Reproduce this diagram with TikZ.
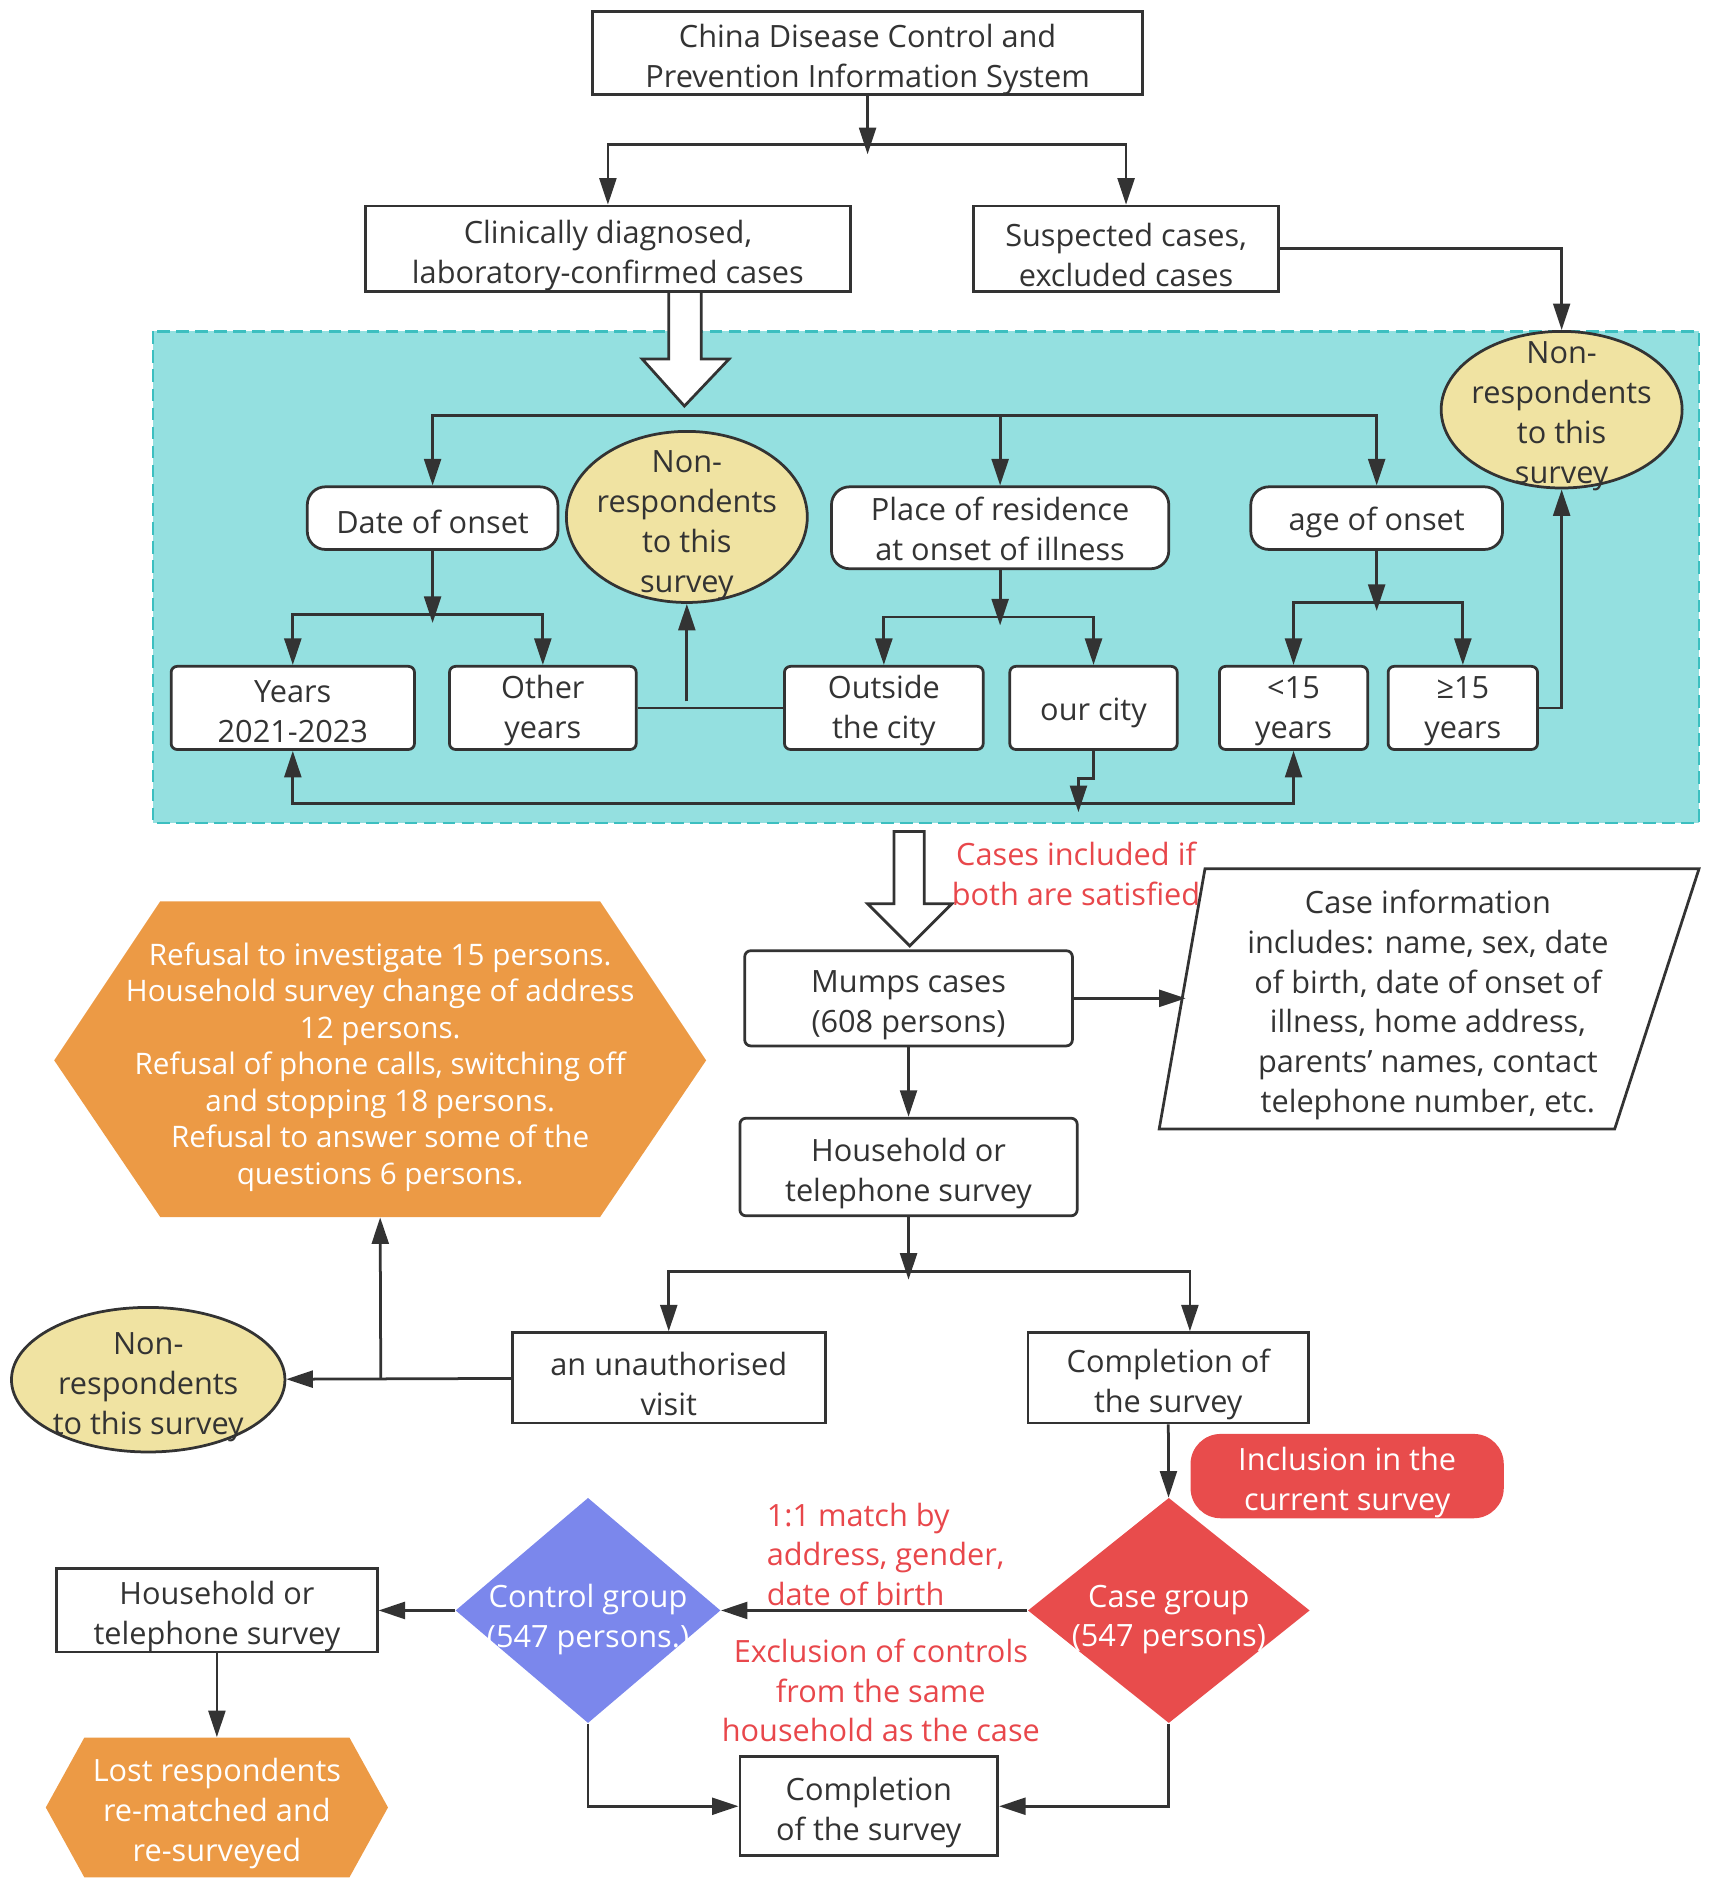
\documentclass[tikz,border=0pt]{standalone}
\usepackage{fontspec}
\setmainfont{Open Sans}
\usetikzlibrary{arrows.meta,shapes.geometric}

\definecolor{boxline}{HTML}{333333}
\definecolor{tealfill}{HTML}{94E0E0}
\definecolor{tealline}{HTML}{3CBFC0}
\definecolor{paleyellow}{HTML}{F0E3A2}
\definecolor{orangefill}{HTML}{EC9A45}
\definecolor{redfill}{HTML}{E84C4C}
\definecolor{redtext}{HTML}{E8474B}
\definecolor{bluefill}{HTML}{7B87EC}

\tikzset{
  txt/.style={font=\fontsize{14.5}{18.8}\selectfont, text=boxline, align=center, inner sep=0pt},
  box/.style={txt, text height=35.8pt, draw=boxline, line width=1.3pt, fill=white},
  oneline/.style={text height=15pt},
  rbox/.style={box, rounded corners=0.3cm},
  sbox/.style={box, rounded corners=0.1cm},
  tbox/.style={sbox, text height=32.5pt},
  nonresp/.style={ellipse, draw=boxline, line width=1.3pt, fill=paleyellow, inner sep=0pt},
  flag/.style={diamond, inner sep=0pt},
  note/.style={txt, text=redtext},
  wtxt/.style={txt, text=white},
  arr/.style={draw=boxline, line width=1.3pt, -{Triangle[length=0.44cm,width=0.28cm]}},
  line/.style={draw=boxline, line width=1.3pt},
  hollow/.style={draw=boxline, line width=1.3pt, fill=white},
}

\begin{document}
\begin{tikzpicture}[x=0.02cm, y=-0.02cm]
\useasboundingbox (0,0) rectangle (1422,1571);

% selection area
\draw[tealline, line width=1.3pt, fill=tealfill, dash pattern=on 6pt off 3pt] (127,275) rectangle (1410,683);

% sources
\node[box, minimum width=9.14cm, minimum height=1.36cm] (cdc) at (720,44) {China Disease Control and\\Prevention Information System};
\node[box, minimum width=8.06cm, minimum height=1.42cm] (clin) at (504.5,206.5) {Clinically diagnosed,\\laboratory-confirmed cases};
\node[box, minimum width=5.06cm, minimum height=1.42cm] (susp) at (934.5,206.5) {Suspected cases,\\excluded cases};

\node[nonresp, minimum width=4cm, minimum height=2.6cm] (nr1) at (1296,340) {};
\node[txt] (nr1t) at (1296,345.5) {Non-\\respondents\\to this\\survey};

% criteria
\node[rbox, oneline, minimum width=4.16cm, minimum height=1.04cm] (dateon) at (359,430) {Date of onset};
\node[nonresp, minimum width=4cm, minimum height=2.84cm] (nr2) at (570,429) {};
\node[txt] (nr2t) at (570,436) {Non-\\respondents\\to this\\survey};
\node[rbox, text height=31.2pt, minimum width=5.6cm, minimum height=1.36cm] (place) at (830,438) {Place of residence\\at onset of illness};
\node[rbox, oneline, minimum width=4.18cm, minimum height=1.04cm] (ageon) at (1142.5,430) {age of onset};

\node[tbox, minimum width=4.04cm, minimum height=1.38cm] (years) at (243,587.5) {Years\\2021-2023};
\node[tbox, minimum width=3.1cm, minimum height=1.38cm] (other) at (450.5,587.5) {Other\\years};
\node[tbox, minimum width=3.3cm, minimum height=1.38cm] (outside) at (733.5,587.5) {Outside\\the city};
\node[sbox, oneline, minimum width=2.78cm, minimum height=1.38cm] (ourcity) at (907.5,587.5) {our city};
\node[tbox, minimum width=2.46cm, minimum height=1.38cm] (lt15) at (1073.5,587.5) {<15\\years};
\node[tbox, minimum width=2.48cm, minimum height=1.38cm] (ge15) at (1214,587.5) {≥15\\years};

\coordinate (j1) at (720,120);
\coordinate (j2) at (568,345);
\coordinate (j3) at (359,510);
\coordinate (j4) at (830,512);
\coordinate (j5) at (1142.5,500);
\coordinate (j6) at (570,582);
\coordinate (j7) at (895,667);

\draw[arr] (cdc) -- ([yshift=-0.16cm]j1);
\draw[arr] (j1) -| (clin);
\draw[arr] (j1) -| (susp);
\draw[arr] (susp) -| (nr1);
\draw[hollow] (555,242) -- (582,242) -- (582,298) -- (605,298) -- (568,337) -- (533,298) -- (555,298) -- cycle;
\draw[arr] (j2) -| (dateon);
\draw[arr] (j2) -| (ageon);
\draw[arr] (place |- j2) -- (place);
\draw[arr] (dateon) -- ([yshift=-0.14cm]j3);
\draw[arr] (j3) -| (years);
\draw[arr] (j3) -| (other);
\draw[arr] (place) -- ([yshift=-0.14cm]j4);
\draw[arr] (j4) -| (outside);
\draw[arr] (j4) -| (ourcity);
\draw[arr] (ageon) -- ([yshift=-0.14cm]j5);
\draw[arr] (j5) -| (lt15);
\draw[arr] (j5) -| (ge15);
\draw[line] (other) -- (outside);
\draw[arr] (j6) -- (nr2);
\draw[arr] (ge15) -| (nr1);
\draw[arr] (j7) -| (years);
\draw[arr] (j7) -| (lt15);
\draw[arr] (ourcity.south) -- ++(0,23) -| ([yshift=-0.14cm]j7);

% inclusion
\draw[hollow] (742,690) -- (767,690) -- (767,750) -- (790,750) -- (755,785) -- (720,750) -- (742,750) -- cycle;
\node[note] (bothnote) at (893,725) {Cases included if\\both are satisfied};
\node[sbox, minimum width=5.44cm, minimum height=1.58cm] (mumps) at (754,828.5) {Mumps cases\\(608 persons)};
\draw[line, fill=white] (1000,721) -- (1410,721) -- (1340,937) -- (962,937) -- cycle;
\node[txt] (caseinfo) at (1185,834) {Case information\\includes: name, sex, date\\of birth, date of onset of\\illness, home address,\\parents' names, contact\\telephone number, etc.};
\coordinate (cileft) at (984,828.5);
\node[sbox, minimum width=5.6cm, minimum height=1.62cm] (hh1) at (754,968.5) {Household or\\telephone survey};
\node[box, minimum width=5.2cm, minimum height=1.5cm] (unauth) at (555,1143.5) {an unauthorised\\visit};
\node[box, minimum width=4.66cm, minimum height=1.5cm] (compl1) at (969.5,1143.5) {Completion of\\the survey};
\node[nonresp, minimum width=4.54cm, minimum height=2.4cm] (nr3) at (123,1145) {};
\node[txt] (nr3t) at (123,1151) {Non-\\respondents\\to this survey};
\fill[orangefill] (133,748) -- (498,748) -- (586,880) -- (498,1010) -- (133,1010) -- (45,880) -- cycle;
\node[wtxt, font=\fontsize{14}{17.2}\selectfont, minimum width=10.82cm, minimum height=4.98cm] (refusal) at (315.5,885.5) {Refusal to investigate 15 persons.\\Household survey change of address\\12 persons.\\Refusal of phone calls, switching off\\and stopping 18 persons.\\Refusal to answer some of the\\questions 6 persons.};

\coordinate (j8) at (754,1055);
\coordinate (j9) at (316,1144);
\draw[arr] (mumps) -- (cileft);
\draw[arr] (mumps) -- (hh1);
\draw[arr] (hh1) -- ([yshift=-0.14cm]j8);
\draw[arr] (j8) -| (unauth);
\draw[arr] (j8) -| ([xshift=0.36cm]compl1.north);
\draw[arr] (unauth) -- (nr3);
\draw[arr] (j9) -- (refusal.south);

% matching
\node[box, draw=none, text=white, fill=redfill, rounded corners=0.5cm, minimum width=5.2cm, minimum height=1.4cm] (incl) at (1118,1225) {Inclusion in the\\current survey};
\node[flag, fill=redfill, minimum width=4.68cm, minimum height=3.74cm] (casegrp) at (970,1336.5) {};
\node[wtxt] (casegrpt) at (970,1344) {Case group\\(547 persons)};
\node[flag, fill=bluefill, minimum width=4.4cm, minimum height=3.74cm] (ctrlgrp) at (488,1336.5) {};
\node[wtxt] (ctrlgrpt) at (488,1344) {Control group\\(547 persons.)};
\node[note, align=left, anchor=west] (matchnote) at (636,1290) {1:1 match by\\address, gender,\\date of birth};
\node[note] (exclnote) at (731,1403) {Exclusion of controls\\from the same\\household as the case};
\node[box, minimum width=5.32cm, minimum height=1.38cm] (hh2) at (180,1336.5) {Household or\\telephone survey};
\fill[orangefill] (70,1442) -- (290,1442) -- (322,1500) -- (290,1558) -- (70,1558) -- (38,1500) -- cycle;
\node[wtxt, minimum width=5.68cm, minimum height=2.52cm] (lost) at (180,1505) {Lost respondents\\re-matched and\\re-surveyed};
\node[box, minimum width=4.28cm, minimum height=1.64cm] (compl2) at (721,1499) {Completion\\of the survey};

\draw[arr] (compl1) -- (casegrp);
\draw[arr] (casegrp) -- (ctrlgrp);
\draw[arr] (ctrlgrp) -- (hh2);
\draw[arr] (hh2) -- (lost);
\draw[arr] (ctrlgrp.south) |- (compl2);
\draw[arr] (casegrp.south) |- (compl2);
\end{tikzpicture}
\end{document}
